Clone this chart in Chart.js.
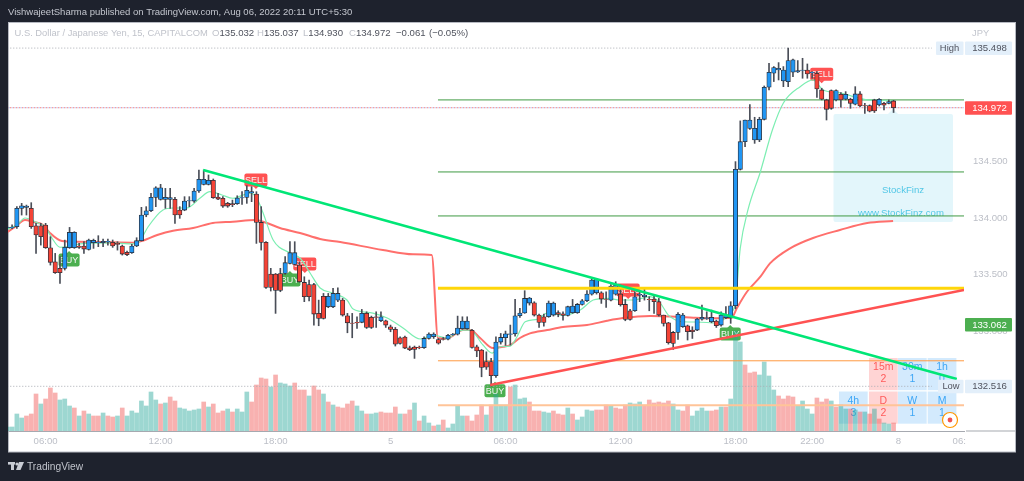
<!DOCTYPE html>
<html><head><meta charset="utf-8">
<style>html,body{margin:0;padding:0;background:#1e222d;overflow:hidden}canvas{display:block}</style>
<script src="https://cdn.jsdelivr.net/npm/chart.js@4"></script>
</head><body><canvas id="c" width="1024" height="481"></canvas>
<script>
const opens=[133.915,133.915,133.923,134.085,134.094,134.085,133.932,133.932,133.938,133.738,
133.614,133.556,133.556,133.738,133.738,133.753,133.753,133.723,133.782,133.782,
133.782,133.788,133.785,133.776,133.753,133.697,133.694,133.753,133.8,134.026,
134.064,134.182,134.164,134.164,134.164,134.164,134.07,134.07,134.15,134.149,
134.238,134.296,134.296,134.332,134.185,134.173,134.129,134.126,134.126,134.176,
134.182,134.22,134.211,133.961,133.785,133.506,133.506,133.511,133.511,133.6,
133.591,133.585,133.432,133.414,133.414,133.159,133.309,133.217,133.217,133.276,
133.276,133.138,133.074,133.08,133.08,133.159,133.124,133.129,133.094,133.094,
133.041,133.018,132.944,132.95,132.856,132.862,132.859,132.856,132.938,132.953,
132.929,132.935,132.932,132.971,132.976,133.024,133.024,133.009,132.865,132.835,
132.735,132.735,132.609,132.906,132.944,132.974,132.979,133.138,133.162,133.25,
133.253,133.144,133.129,133.129,133.144,133.165,133.156,133.141,133.165,133.165,
133.238,133.27,133.329,133.341,133.341,133.285,133.276,133.329,133.329,133.238,
133.182,133.182,133.32,133.306,133.282,133.285,133.262,133.144,133.076,132.991,
132.991,133.041,133.05,133.012,133.012,133.109,133.115,133.085,133.091,133.056,
133.12,133.12,133.226,134.429,134.673,134.79,134.688,134.688,134.87,135.153,
135.276,135.305,135.208,135.202,135.285,135.288,135.3,135.305,135.282,135.276,
135.129,135.041,135.123,135.041,135.091,135.047,135.047,135.003,135.094,134.991,
134.991,135.041,134.997,135.011,135.011,135.032];
const highs=[133.925,133.94,134.10,134.129,134.114,134.135,133.953,133.953,133.953,133.835,
133.688,133.659,133.805,133.917,133.879,133.776,133.791,133.814,133.814,133.844,
133.814,133.814,133.806,133.791,133.761,133.708,133.767,133.826,134.094,134.1,
134.217,134.276,134.297,134.261,134.261,134.182,134.1,134.188,134.188,134.261,
134.423,134.423,134.379,134.344,134.217,134.188,134.138,134.158,134.196,134.232,
134.285,134.276,134.232,134.1,133.791,133.556,133.511,133.556,133.659,133.791,
133.791,133.609,133.482,133.453,133.423,133.276,133.335,133.335,133.379,133.385,
133.291,133.159,133.159,133.129,133.194,133.173,133.135,133.173,133.173,133.1,
133.056,133.035,132.953,132.959,132.871,132.871,132.871,132.953,132.988,132.988,
132.938,132.947,132.974,132.982,133.135,133.129,133.129,133.018,132.879,132.841,
132.82,132.762,132.953,132.982,133.003,133.056,133.282,133.203,133.359,133.3,
133.262,133.153,133.153,133.268,133.259,133.182,133.173,133.223,133.282,133.247,
133.282,133.359,133.459,133.465,133.35,133.35,133.412,133.438,133.409,133.282,
133.194,133.35,133.359,133.379,133.306,133.32,133.291,133.144,133.08,133.0,
133.165,133.159,133.056,133.041,133.115,133.232,133.173,133.188,133.1,133.173,
133.218,133.262,134.497,134.856,134.864,135.0,134.888,134.888,135.164,135.364,
135.335,135.37,135.335,135.498,135.4,135.388,135.408,135.358,135.291,135.291,
135.144,135.047,135.129,135.129,135.105,135.114,135.056,135.158,135.114,135.011,
134.997,135.047,135.053,135.02,135.041,135.037];
const lows=[133.905,133.905,133.908,134.026,134.026,133.908,133.688,133.761,133.732,133.585,
133.511,133.423,133.541,133.732,133.732,133.732,133.688,133.717,133.732,133.747,
133.747,133.761,133.741,133.717,133.673,133.667,133.688,133.747,133.797,134.011,
134.055,134.1,134.158,134.085,134.085,133.953,133.997,134.064,134.1,134.138,
134.226,134.291,134.291,134.173,134.161,134.094,134.094,134.1,134.12,134.12,
134.129,134.144,133.776,133.717,133.379,133.356,133.159,133.35,133.503,133.594,
133.585,133.432,133.262,133.268,133.056,133.05,133.109,133.209,133.209,133.262,
133.135,132.988,132.944,133.026,133.076,133.026,133.026,133.035,133.085,133.035,
132.997,132.871,132.888,132.847,132.83,132.762,132.847,132.85,132.932,132.938,
132.888,132.924,132.924,132.965,132.968,133.018,133.018,132.853,132.777,132.6,
132.665,132.518,132.594,132.888,132.877,132.88,132.959,133.124,133.159,133.232,
133.135,133.035,133.047,133.124,133.135,133.129,133.1,133.135,133.159,133.159,
133.232,133.262,133.32,133.329,133.247,133.212,133.268,133.32,133.223,133.094,
133.1,133.176,133.262,133.276,133.182,133.159,133.135,133.047,132.888,132.841,
132.929,133.035,132.924,132.938,133.006,133.1,133.106,133.076,133.035,133.047,
133.112,133.071,133.2,134.423,134.629,134.782,134.658,134.673,134.864,135.129,
135.203,135.217,135.158,135.158,135.247,135.282,135.232,135.232,135.232,135.064,
135.041,134.864,134.958,135.032,134.976,135.041,134.967,134.997,134.982,134.923,
134.935,134.93,134.988,134.953,135.006,134.93];
const closes=[133.917,133.92,134.085,134.108,134.105,133.923,133.85,133.835,133.738,133.609,
133.517,133.517,133.741,133.873,133.873,133.741,133.726,133.806,133.803,133.785,
133.794,133.794,133.753,133.767,133.682,133.676,133.753,133.8,134.026,134.064,
134.182,134.267,134.267,134.182,134.179,134.026,134.026,134.149,134.153,134.238,
134.341,134.341,134.332,134.179,134.167,134.105,134.105,134.117,134.176,134.179,
134.244,134.232,133.961,133.785,133.388,133.388,133.362,133.362,133.606,133.694,
133.694,133.438,133.306,133.306,133.153,133.115,133.115,133.309,133.335,133.335,
133.144,133.076,133.071,133.074,133.159,133.035,133.035,133.124,133.129,133.056,
133.018,132.888,132.894,132.853,132.838,132.841,132.856,132.938,132.976,132.976,
132.897,132.929,132.965,132.974,133.029,133.091,133.091,132.859,132.827,132.682,
132.685,132.609,132.906,132.947,132.979,132.979,133.138,133.162,133.291,133.294,
133.144,133.079,133.079,133.25,133.25,133.15,133.141,133.218,133.223,133.238,
133.27,133.329,133.453,133.459,133.285,133.282,133.4,133.409,133.235,133.106,
133.106,133.306,133.326,133.32,133.279,133.262,133.144,133.071,132.9,132.894,
133.15,133.144,132.997,132.997,133.109,133.124,133.12,133.124,133.05,133.144,
133.144,133.226,134.429,134.673,134.864,134.864,134.79,134.87,135.153,135.285,
135.326,135.32,135.305,135.388,135.394,135.3,135.305,135.27,135.285,135.138,
135.047,134.958,134.967,135.123,135.041,135.091,135.011,135.094,134.988,134.988,
134.941,134.944,135.047,134.994,135.026,134.972];
const volumes=[4,4,17,13,15,17,37,27,32,43,
38,31,32,25,23,15,20,17,15,15,
18,15,14,15,23,15,20,18,30,25,
39,31,27,28,34,30,23,22,20,21,
22,29,24,27,18,20,22,19,22,19,
39,29,46,53,52,44,56,48,47,45,
48,41,41,35,45,41,37,29,26,24,
23,27,30,25,20,17,17,18,19,18,
18,24,17,17,21,28,10,15,8,5,
6,11,3,7,25,15,15,10,16,26,
16,26,37,26,26,44,46,32,33,29,
20,20,19,18,20,17,16,23,17,11,
14,21,20,21,21,26,25,23,22,26,
28,27,29,26,31,28,29,28,30,27,
21,20,26,15,20,23,20,20,21,24,
24,32,100,89,66,58,59,56,69,55,
41,35,32,35,34,25,30,22,17,33,
29,32,30,24,26,22,22,21,19,19,
17,22,12,8,7,8];
const volumeSides=("ttttrrrtrr"+"rtttrtrtrr"+"trrtrttttt"+"ttrtrrtttt"+"trtrrrtrtt"+"trrrrtrttt"+"rrrtrrtrtr"+"rrrttrttrr"+"rrtrrtrttr"+"trttttrrrr"+"trtttrtttr"+"rrttrrrtrt"+"tttrrrtrrr"+"tttrrrrrrt"+"trrttttrrt"+"rtttrrrttt"+"trrrrttttr"+"rrtrttrtrt"+"rtrttr").split("");
const slowBars=[0,1.6,3.7,5.4,7.5,8.9,11.4,14.6,19.4,26.2,28.3,31.3,34.6,38.8,42.9,47.1,51.7,54.2,56.9,61.1,65.3,69.5,78.4,84.7,88.6,89.9,92.4,95.1,96.6,98.7,101.4,103.5,105,107,109.1,112.7,116,121,125.2,128.5,134.2,139.8,143.2,147.3,151.2,152.3,154.4,157.2,159.2,163.4,168.2,173.8,179.5,184.9];
const slowValues=[133.877,133.921,133.982,133.965,133.938,133.868,133.797,133.791,133.788,133.782,133.8,133.85,133.888,133.912,133.956,133.967,133.982,133.956,133.912,133.868,133.815,133.788,133.718,133.68,133.674,132.939,132.948,133.012,133.012,132.942,132.853,132.865,132.88,132.942,132.983,133.012,133.039,133.056,133.094,133.118,133.136,133.13,133.121,133.115,133.121,133.206,133.35,133.482,133.6,133.733,133.824,133.894,133.956,133.974];
const fastBars=[0.1,2,3.7,6.2,7.9,9.3,11,12.5,15.2,21.4,26.2,27.7,29.4,32.5,34.6,37.5,40.2,42.3,44.8,47.1,50.7,52.1,53.4,55.5,59,61.1,63.2,65.3,68,70.9,72.2,76.3,79.3,82.6,86.2,88.9,91.8,95.1,96.6,99.3,101.2,102.9,105,106.4,108.1,110.6,112.7,116,119.6,122.3,125.2,127.9,130.6,134.2,136.3,138,141.1,144,148.2,150.9,151.9,153,154.6,157.2,159.7,162,165.5,168.2,170.3,173.8,179.5,184.9];
const fastValues=[133.903,133.938,134.0,133.959,133.923,133.824,133.742,133.747,133.771,133.78,133.771,133.8,133.923,134.071,134.088,134.088,134.174,134.232,134.203,134.174,134.22,134.174,134.044,133.806,133.691,133.647,133.515,133.383,133.338,133.277,133.197,133.162,133.118,133.03,132.933,132.968,132.942,133.012,133.012,132.88,132.809,132.865,132.871,132.953,133.085,133.106,133.162,133.144,133.189,133.277,133.292,133.277,133.277,133.306,133.25,133.144,133.085,133.083,133.074,133.162,133.233,133.735,134.071,134.408,134.776,135.014,135.158,135.217,135.129,135.103,135.041,135.035];
const greenTrendBars=[40.9,198.2], greenTrendValues=[134.423,132.58];
const redTrendBars=[100.8,199.7], redTrendValues=[132.527,133.365];
const yellowLevel=133.38;
const greenLevels=[135.041,134.406,134.018];
const orangeLevel=132.741, paleOrangeLevel=132.35;
const levelStartBar=89.9, levelEndBar=199.7;
const highPrice=135.498, lowPrice=132.516, lastPrice=134.972, emaPrice=133.062;
const markerTexts=["BUY","BUY","BUY","BUY","SELL","SELL","SELL","SELL"];
const markerBars=[12.9,59,101.8,150.9,51.9,62.1,129.6,170];
const markerValues=[133.63,133.453,132.477,132.977,134.335,133.594,133.365,135.267];
const priceTicks=[133,133.5,134,134.5];
const timeTickBars=[8,32,56,80,104,128,152,168,186,198.7];
const timeTickLabels=["06:00","12:00","18:00","5","06:00","12:00","18:00","22:00","8","06:"];
const tableLabels=[["15m","2"],["30m","1"],["1h","0"],["4h","3"],["D","2"],["W","1"],["M","1"]];
const headerText="VishwajeetSharma published on TradingView.com, Aug 06, 2022 20:11 UTC+5:30";
const titleText="U.S. Dollar / Japanese Yen, 15, CAPITALCOM";

const FONT='"Liberation Sans", Arial, sans-serif';
const BLUE='#2196f3', RED='#f44336', DARK='#2a2e39';
const bars=opens.map((_,i)=>i);
const up=i=>closes[i]>=opens[i];
const hline=(v,a,b)=>[{x:a,y:v},{x:b,y:v}];
const lineSet=(data,color,width,order,extra)=>Object.assign({type:'line',data,borderColor:color,borderWidth:width,pointRadius:0,order,yAxisID:'y',fill:false},extra||{});

const datasets=[
 {type:'bar',data:bars.map(i=>({x:i,y:volumes[i]})),yAxisID:'v',order:20,grouped:false,barThickness:4,
  backgroundColor:bars.map(i=>volumeSides[i]==='t'?'rgba(38,166,154,.45)':'rgba(239,83,80,.45)')},
 lineSet(hline(highPrice,0,193),'#a8abb3',1,15,{borderDash:[1,2]}),
 lineSet(hline(lowPrice,0,193),'#a8abb3',1,15,{borderDash:[1,2]}),
 lineSet(hline(lastPrice,0,199.7),'rgba(122,167,255,.7)',1,16,{borderDash:[1,2],borderDashOffset:1.5}),
 lineSet(hline(lastPrice,0,199.7),'#ef5350',1,15,{borderDash:[1,2]}),
 ...greenLevels.map(v=>lineSet(hline(v,levelStartBar,levelEndBar),'#3f9a43',1,14)),
 lineSet(hline(orangeLevel,levelStartBar,levelEndBar),'#ff9a40',1,14),
 lineSet(hline(paleOrangeLevel,levelStartBar,levelEndBar),'#ffc498',2,14),
 lineSet(slowBars.map((x,i)=>({x,y:slowValues[i]})),'#ff6f6c',2,12,{cubicInterpolationMode:'monotone'}),
 lineSet(fastBars.map((x,i)=>({x,y:fastValues[i]})),'#7ceeb2',1.2,11,{cubicInterpolationMode:'monotone'}),
 {type:'bar',data:bars.map(i=>({x:i,y:[lows[i],highs[i]]})),yAxisID:'y',order:6,grouped:false,barThickness:1,backgroundColor:'#4a4e58'},
 {type:'bar',data:bars.map(i=>({x:i,y:[opens[i],closes[i]]})),yAxisID:'y',order:5,grouped:false,barThickness:4.4,borderSkipped:false,borderWidth:0.8,borderColor:DARK,
  backgroundColor:bars.map(i=>up(i)?BLUE:RED)},
 lineSet(hline(yellowLevel,levelStartBar,levelEndBar),'#ffd60a',3,3),
 lineSet(redTrendBars.map((x,i)=>({x,y:redTrendValues[i]})),'#ff5252',2.5,2),
 lineSet(greenTrendBars.map((x,i)=>({x,y:greenTrendValues[i]})),'#00e676',2.5,1),
];

function txt(ctx,s,x,y,font,color,align){ctx.font=font;ctx.fillStyle=color;ctx.textAlign=align||'left';ctx.textBaseline='middle';ctx.fillText(s,x,y);}
function box(ctx,x,y,w,h,r,color){ctx.fillStyle=color;ctx.beginPath();ctx.roundRect(x,y,w,h,r);ctx.fill();}

const decor={id:'decor',
 beforeDraw(c){const x=c.ctx;
  x.fillStyle='#1e222d';x.fillRect(0,0,1024,481);
  x.fillStyle='#fff';x.fillRect(8,22,1007.5,430);
  x.strokeStyle='#b7bac2';x.lineWidth=1;x.strokeRect(8.5,22.5,1007,429.5);
  txt(x,headerText,8,12,'9.5px '+FONT,'#c3c6ce');
  txt(x,titleText,14.5,33.5,'9.4px '+FONT,'#c0c3cb');
  let seg=[['O','135.032',212],['H','135.037',257],['L','134.930',303],['C','134.972',349]];
  seg.forEach(s=>{txt(x,s[0],s[2],33.5,'9.6px '+FONT,'#c0c3cb');const w=x.measureText(s[0]).width;txt(x,s[1],s[2]+w,33.5,'9.6px '+FONT,'#50535e');});
  txt(x,'\u22120.061',396,33.5,'9.6px '+FONT,'#50535e');
  txt(x,'(\u22120.05%)',429,33.5,'9.6px '+FONT,'#50535e');
  x.fillStyle='#c9ccd4';
  x.fillRect(8,462,7,2.6);x.fillRect(11,462,3,8);
  x.beginPath();x.arc(17,464,1.6,0,7);x.fill();
  x.beginPath();x.moveTo(19,462);x.lineTo(24,462);x.lineTo(20.5,470);x.lineTo(16,470);x.fill();
  txt(x,'TradingView',27,467,'10.2px '+FONT,'#c0c3cb');
 },
 beforeDatasetsDraw(c){const x=c.ctx,sx=c.scales.x,sy=c.scales.y;
  box(x,833.5,114,119.5,108,2,'#e3f6fb');
  x.fillStyle='#e3f6fb';x.beginPath();x.moveTo(888,114);x.lineTo(893,109);x.lineTo(898,114);x.fill();
  const cells=[[869,358],[898,358],[927.7,358],[839,391.5],[869,391.5],[898,391.5],[927.7,391.5]];
  tableLabels.forEach((l,i)=>{const red=l[0]==='15m'||l[0]==='D';const [cx,cy]=cells[i];
    x.fillStyle=red?'rgba(255,82,82,.25)':'rgba(33,150,243,.2)';x.fillRect(cx,cy,28.7,32.2);
    const col=red?'#ff5b5b':'#3ea6f5';
    txt(x,l[0],cx+14.3,cy+9.5,'10.5px '+FONT,col,'center');txt(x,l[1],cx+14.3,cy+21.2,'10.5px '+FONT,col,'center');});
  markerTexts.forEach((t,i)=>{const px=sx.getPixelForValue(markerBars[i]),py=sy.getPixelForValue(markerValues[i]);
    const col=t==='BUY'?'#4caf50':'#ff5252',w=t==='BUY'?21:23;
    box(x,px-w/2,py-6.5,w,13,2,col);
    x.fillStyle=col;x.beginPath();
    if(t==='BUY'){x.moveTo(px-3,py-6);x.lineTo(px,py-9);x.lineTo(px+3,py-6);}else{x.moveTo(px-3,py+6);x.lineTo(px,py+9);x.lineTo(px+3,py+6);}
    x.fill();
    txt(x,t,px,py+.5,'9px '+FONT,'#f4f6f4','center');});
  txt(x,'StockFinz',903,190,'9.6px '+FONT,'#52c7e6','center');
  txt(x,'www.StockFinz.com',901,213,'9.6px '+FONT,'#52c7e6','center');
 },
 afterDraw(c){const x=c.ctx,sy=c.scales.y;
  x.fillStyle='#a6a9b0';x.fillRect(966,430.5,49.5,1);
  txt(x,'JPY',972,33,'9.4px '+FONT,'#c3c6ce');
  const side=(label,v,bg,col)=>{const py=sy.getPixelForValue(v);
    box(x,965,py-6.5,47,13.5,1,bg);txt(x,label,989.5,py+.5,'9.6px '+FONT,col,'center');};
  const y1=sy.getPixelForValue(highPrice);box(x,936,y1-6.5,27.5,13.5,1,'#e3effa');txt(x,'High',949.5,y1+.5,'9.4px '+FONT,'#50535e','center');
  side('135.498',highPrice,'#e3effa','#50535e');
  side('134.972',lastPrice,'#ff5252','#fff');
  side('133.062',emaPrice,'#4caf50','#fff');
  const y2=sy.getPixelForValue(lowPrice);box(x,938,y2-6.5,25.5,13.5,1,'#e3effa');txt(x,'Low',951,y2+.5,'9.4px '+FONT,'#50535e','center');
  side('132.516',lowPrice,'#e3effa','#50535e');
  x.fillStyle='#fff';x.strokeStyle='#ff9800';x.lineWidth=1.2;x.beginPath();x.arc(950,420,7.5,0,7);x.fill();x.stroke();
  x.fillStyle='#f0524f';x.beginPath();x.arc(950,420,2.4,0,7);x.fill();
 }
};

new Chart(document.getElementById('c'),{
 data:{datasets},
 plugins:[decor],
 options:{responsive:false,animation:false,events:[],
  layout:{padding:{left:8,top:22,right:9,bottom:29}},
  plugins:{legend:{display:false},tooltip:{enabled:false},title:{display:false}},
  scales:{
   x:{type:'linear',offset:false,min:0.15,max:199.7,grid:{display:false,drawTicks:false},border:{display:true,color:'#a6a9b0',width:1},
    afterBuildTicks(s){s.ticks=timeTickBars.map(v=>({value:v}));},afterFit(s){s.height=21;},
    ticks:{autoSkip:false,maxRotation:0,padding:5,color:'#bcbfc7',font:{family:FONT,size:9.6},callback:(v,i)=>timeTickLabels[i]}},
   y:{type:'linear',position:'right',min:132.122,max:135.728,grid:{display:false,drawTicks:false},border:{display:false},
    afterBuildTicks(s){s.ticks=priceTicks.map(v=>({value:v}));},afterFit(s){s.width=51;},
    ticks:{padding:9,color:'#bcbfc7',font:{family:FONT,size:9.6},callback:v=>v.toFixed(3)}},
   v:{type:'linear',display:false,min:0,max:409}
  }
 }
});
</script></body></html>
